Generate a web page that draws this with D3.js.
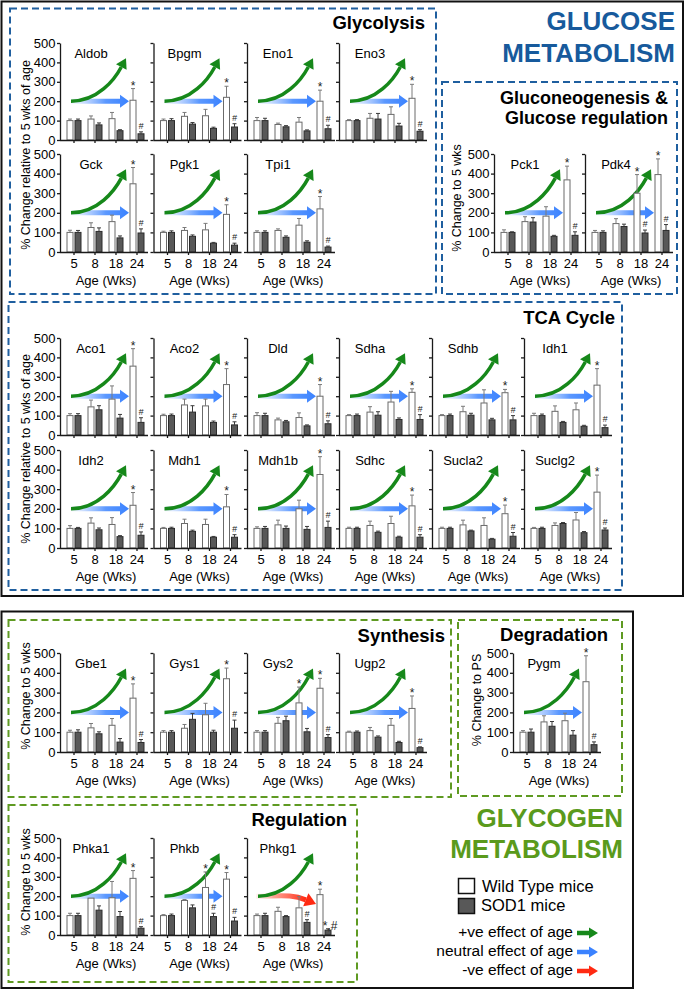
<!DOCTYPE html>
<html><head><meta charset="utf-8">
<script src="https://cdn.jsdelivr.net/npm/d3@7"></script>
<style>
body{margin:0;background:#fff}
svg{display:block}
text{font-family:"Liberation Sans",Arial,Helvetica,sans-serif}
</style>
</head><body>
<svg id="c" width="688" height="992"></svg>
<script>
// ---------------- DATA ----------------
const ages = ["5", "8", "18", "24"];
const yTicks = [0, 100, 200, 300, 400, 500];
const genes = ["Aldob","Bpgm","Eno1","Eno3","Gck","Pgk1","Tpi1","Pck1","Pdk4",
  "Aco1","Aco2","Dld","Sdha","Sdhb","Idh1","Idh2","Mdh1","Mdh1b","Sdhc","Sucla2","Suclg2",
  "Gbe1","Gys1","Gys2","Ugp2","Pygm","Phka1","Phkb","Phkg1"];
const wtMean = [
  [100,108,110,205],[100,122,125,220],[100,80,92,200],[100,112,132,215],
  [100,125,155,348],[100,110,113,192],[100,110,137,220],
  [100,155,183,368],[100,145,300,395],
  [100,145,185,355],[100,155,150,260],[100,78,90,200],[100,118,170,220],[100,120,165,218],[100,122,130,257],
  [100,127,120,218],[100,125,120,210],[100,118,200,375],[100,115,125,215],[100,118,115,175],[100,115,143,285],
  [100,122,135,272],[100,120,188,370],[100,145,248,322],[100,108,135,220],
  [100,152,158,355],
  [100,190,192,292],[100,178,245,288],[100,122,140,208]];
const wtErr = [
  [8,16,32,60],[8,20,33,57],[16,7,24,57],[5,25,39,72],
  [11,24,33,83],[6,15,33,49],[8,8,34,63],
  [13,25,48,70],[10,25,95,80],
  [10,35,68,90],[7,30,35,82],[15,9,24,60],[5,28,55,18],[5,28,68,17],[12,28,35,85],
  [14,27,35,65],[5,22,27,63],[8,24,44,91],[6,22,37,55],[6,24,39,44],[5,13,38,87],
  [10,22,34,72],[8,19,58,54],[8,30,80,50],[5,16,34,63],
  [8,31,38,131],
  [12,0,84,40],[5,5,80,34],[8,21,58,28]];
const sodMean = [
  [100,78,48,32],[100,82,60,67],[100,68,47,58],[100,108,72,45],
  [100,105,72,97],[100,80,45,35],[100,75,50,25],
  [100,153,80,85],[100,130,97,110],
  [100,130,87,65],[100,118,65,52],[100,68,47,58],[100,102,80,80],[100,102,78,78],[100,65,45,38],
  [100,93,58,65],[100,85,55,55],[100,100,95,105],[100,80,55,55],[100,87,45,60],[100,125,78,92],
  [100,92,50,48],[100,165,100,120],[100,158,102,73],[100,75,48,22],
  [100,130,85,37],
  [100,128,95,35],[100,140,95,72],[100,95,65,25]];
const sodErr = [
  [8,10,5,10],[10,8,6,17],[12,6,5,18],[5,29,14,8],
  [10,18,10,21],[8,7,4,10],[8,7,7,5],
  [3,22,5,18],[8,12,15,30],
  [10,21,19,24],[8,33,7,16],[12,7,5,15],[8,18,8,25],[8,10,8,22],[8,5,5,13],
  [5,9,5,17],[6,6,4,13],[10,12,15,32],[6,6,5,13],[6,4,4,19],[6,5,6,10],
  [12,10,18,15],[8,30,10,41],[8,23,17,15],[6,6,6,4],
  [16,24,23,14],
  [12,22,26,8],[8,15,17,19],[12,5,14,7]];
// significance marks (default: WT 24 "*", SOD1 24 "#")
const wtMarkExtra = {Pdk4:["","","*","*"], Gys2:["","","*","*"], Phkb:["","","*","*"]};
const sodMarkExtra = {Pdk4:["","","#","#"], Phkb:["","","#","#"], Phkg1:["","","#","*,#"]};
// second trend arrow per gene: "neutral" (blue) or "down" (red)
const negativeTrendGenes = ["Phkg1"];
const arrowStartVal = 200, arrowUpVal = 422, arrowDownVal = 160;

// ---------------- LAYOUT ----------------
const FONT = '"Liberation Sans",Arial,Helvetica,sans-serif';
const rows = [
  {names:["Aldob","Bpgm","Eno1","Eno3"], x:[60,153.5,247,339], top:43, bot:140, xl:false},
  {names:["Gck","Pgk1","Tpi1"], x:[60,153.5,247], top:154, bot:252, xl:true},
  {names:["Pck1","Pdk4"], x:[494,585], top:154, bot:252, xl:true},
  {names:["Aco1","Aco2","Dld","Sdha","Sdhb","Idh1"], x:[60,153.5,247,339,432,524], top:338, bot:435, xl:false},
  {names:["Idh2","Mdh1","Mdh1b","Sdhc","Sucla2","Suclg2"], x:[60,153.5,247,339,432,524], top:450, bot:548, xl:true},
  {names:["Gbe1","Gys1","Gys2","Ugp2"], x:[60,153.5,247,339], top:653, bot:752, xl:true},
  {names:["Pygm"], x:[513], top:653, bot:752, xl:true},
  {names:["Phka1","Phkb","Phkg1"], x:[60,153.5,247], top:838, bot:935, xl:true}
];
const PW = 88;

const svg = d3.select("#c");
const defs = svg.append("defs");
function grad(id, stops){
  const g = defs.append("linearGradient").attr("id", id)
    .attr("x1",0).attr("x2",1).attr("y1",0).attr("y2",0);
  stops.forEach(s => g.append("stop").attr("offset", s[0]).attr("stop-color", s[1]).attr("stop-opacity", s[2]));
}
grad("gBlue", [[0,"#cfe0ff",0.25],[0.3,"#9fc2ff",0.8],[0.6,"#5b98ff",1],[1,"#3a82ff",1]]);
grad("gRed", [[0,"#ffd6cf",0.3],[0.35,"#ff9a8a",0.9],[1,"#ff2a12",1]]);

const GREEN = "#16881a", BLUE = "#3a82ff", RED = "#ff2a12";

// ---------------- BOXES ----------------
function box(x1,y1,x2,y2,color,dash,w){
  svg.append("rect").attr("x",x1).attr("y",y1).attr("width",x2-x1).attr("height",y2-y1)
    .attr("fill","none").attr("stroke",color).attr("stroke-width",w)
    .attr("stroke-dasharray",dash||null);
}
box(1.5,1.5,683,596,"#111",null,2);
box(1.5,611.5,633,988,"#111",null,2);
const BLUEBOX = "#1f5f9f", GREENBOX = "#5f9a22";
box(10,8.5,436,294,BLUEBOX,"7,4",2);
box(442,82,677,294,BLUEBOX,"7,4",2);
box(8.5,302,622,590,BLUEBOX,"7,4",2);
box(8.5,620,451,797,GREENBOX,"7,4",2);
box(458,620,622,796,GREENBOX,"7,4",2);
box(8.5,805,357,982,GREENBOX,"7,4",2);

// ---------------- TITLES ----------------
function txt(t,x,y,size,opts={}){
  return svg.append("text").attr("x",x).attr("y",y).text(t)
    .attr("font-size",size).attr("font-weight",opts.bold?"bold":null)
    .attr("text-anchor",opts.anchor||"start").attr("fill",opts.fill||"#000")
    .attr("font-family",FONT);
}
txt("GLUCOSE",675,30,26,{bold:1,anchor:"end",fill:"#175a9c"});
txt("METABOLISM",675,62,26,{bold:1,anchor:"end",fill:"#175a9c"});
txt("Glycolysis",425,28.5,18.5,{bold:1,anchor:"end"});
txt("Gluconeogenesis &",668,104,18,{bold:1,anchor:"end"});
txt("Glucose regulation",668,124,18,{bold:1,anchor:"end"});
txt("TCA Cycle",615,324,18.5,{bold:1,anchor:"end"});
txt("Synthesis",445,641.5,18.5,{bold:1,anchor:"end"});
txt("Degradation",608,640.5,18.5,{bold:1,anchor:"end"});
txt("Regulation",347,826,18.5,{bold:1,anchor:"end"});
txt("GLYCOGEN",623,827,26,{bold:1,anchor:"end",fill:"#5a9a1c"});
txt("METABOLISM",623,858,26,{bold:1,anchor:"end",fill:"#5a9a1c"});

const yLabels = [
  {t:"% Change relative to 5 wks of age", x:30, y:155},
  {t:"% Change relative to 5 wks of age", x:30, y:449},
  {t:"% Change to 5 wks", x:461, y:198},
  {t:"% Change to 5 wks", x:30, y:696},
  {t:"% Change to PS", x:481, y:700},
  {t:"% Change to 5 wks", x:30, y:882}
];
yLabels.forEach(l => {
  svg.append("text").attr("transform",`translate(${l.x},${l.y}) rotate(-90)`)
    .attr("text-anchor","middle").attr("font-size",12.5).attr("font-family",FONT).text(l.t);
});

// ---------------- ARROWS ----------------
function head(T, d, len, half){
  const B = [T[0]-d[0]*len, T[1]-d[1]*len];
  const n = [-d[1], d[0]];
  return {B, pts:[T,[B[0]+n[0]*half,B[1]+n[1]*half],[B[0]-n[0]*half,B[1]-n[1]*half]]};
}
function greenArrow(g, x0, y){
  const S = [x0+11, y(arrowStartVal)], T = [x0+66, y(arrowUpVal)];
  const a = 62*Math.PI/180, d = [Math.cos(a), -Math.sin(a)];
  const h = head(T, d, 10, 6);
  const p = d3.path(); p.moveTo(S[0],S[1]);
  p.bezierCurveTo(S[0]+27,S[1], h.B[0]-d[0]*14,h.B[1]-d[1]*14, h.B[0],h.B[1]);
  g.append("path").attr("d",p.toString()).attr("fill","none").attr("stroke",GREEN).attr("stroke-width",3.5);
  g.append("polygon").attr("points",h.pts.map(q=>q.join(",")).join(" ")).attr("fill",GREEN);
}
function blueArrow(g, x0, y){
  const sx = x0+11, tx = x0+69, yy = y(arrowStartVal);
  const pts = [[sx,yy-2.5],[tx-9,yy-2.5],[tx-9,yy-6.5],[tx,yy],[tx-9,yy+6.5],[tx-9,yy+2.5],[sx,yy+2.5]];
  g.append("polygon").attr("points",pts.map(q=>q.join(",")).join(" ")).attr("fill","url(#gBlue)");
}
function redArrow(g, x0, y){
  const S = [x0+9, y(arrowStartVal)], T = [x0+69, y(arrowDownVal)];
  const a = 22*Math.PI/180, d = [Math.cos(a), Math.sin(a)];
  const h = head(T, d, 11, 7);
  const p = d3.path(); p.moveTo(S[0],S[1]);
  p.bezierCurveTo(S[0]+24,S[1], h.B[0]-d[0]*16,h.B[1]-d[1]*16, h.B[0],h.B[1]);
  g.append("path").attr("d",p.toString()).attr("fill","none").attr("stroke","url(#gRed)").attr("stroke-width",5);
  g.append("polygon").attr("points",h.pts.map(q=>q.join(",")).join(" ")).attr("fill",RED);
}

// ---------------- PANELS ----------------
function panel(name, x0, top, bot, showY, showX){
  const gi = genes.indexOf(name);
  const g = svg.append("g");
  const y = d3.scaleLinear().domain([0,500]).range([bot, top]);
  const x = d3.scaleBand().domain(ages).range([x0+3.5, x0+87.5]).padding(0);
  const xs = d3.scaleBand().domain(["wt","sod"]).range([-7,7]).paddingInner(0.25);
  const xc = a => x(a) + x.bandwidth()/2;

  // arrows behind bars
  if (negativeTrendGenes.includes(name)) redArrow(g, x0, y); else blueArrow(g, x0, y);
  greenArrow(g, x0, y);

  const series = [
    {k:"wt", m:wtMean[gi], e:wtErr[gi], fill:"#ffffff", stroke:"#6a6a6a", ec:"#7a7a7a",
     marks: wtMarkExtra[name] || ["","","","*"]},
    {k:"sod", m:sodMean[gi], e:sodErr[gi], fill:"#585858", stroke:"#2c2c2c", ec:"#3a3a3a",
     marks: sodMarkExtra[name] || ["","","","#"]}
  ];
  series.forEach(s => {
    const data = ages.map((a,i) => ({a, m:s.m[i], e:s.e[i], mk:s.marks[i]}));
    const bw = xs.bandwidth();
    g.selectAll(null).data(data).enter().append("rect")
      .attr("x", d => xc(d.a) + xs(s.k)).attr("y", d => y(d.m))
      .attr("width", bw).attr("height", d => y(0) - y(d.m))
      .attr("fill", s.fill).attr("stroke", s.stroke).attr("stroke-width", 1);
    const eg = g.selectAll(null).data(data.filter(d => d.e > 0)).enter();
    eg.append("line").attr("x1", d => xc(d.a)+xs(s.k)+bw/2).attr("x2", d => xc(d.a)+xs(s.k)+bw/2)
      .attr("y1", d => y(d.m)).attr("y2", d => y(d.m+d.e)).attr("stroke", s.ec).attr("stroke-width",1);
    eg.append("line").attr("x1", d => xc(d.a)+xs(s.k)+bw/2-2).attr("x2", d => xc(d.a)+xs(s.k)+bw/2+2)
      .attr("y1", d => y(d.m+d.e)).attr("y2", d => y(d.m+d.e)).attr("stroke", s.ec).attr("stroke-width",1);
    g.selectAll(null).data(data.filter(d => d.mk)).enter().append("text")
      .attr("x", d => xc(d.a)+xs(s.k)+bw/2 + (d.mk==="*,#"?2:0))
      .attr("y", d => d.mk.includes("*") ? y(d.m+d.e) + 1 : y(d.m+d.e) - 3)
      .attr("text-anchor","middle").attr("font-family",FONT)
      .attr("font-size", d => d.mk === "#" ? 9 : 12)
      .attr("font-style", d => d.mk === "#" ? "italic" : null)
      .attr("fill","#222").text(d => d.mk);
  });

  // y axis
  const ya = d3.axisLeft(y).tickValues(yTicks).tickSize(3).tickSizeOuter(0).tickPadding(1.5);
  if (!showY) ya.tickFormat("");
  const yg = g.append("g").attr("transform",`translate(${x0},0)`).call(ya);
  yg.attr("font-size",13).attr("font-family",FONT);
  yg.selectAll("path,line").attr("stroke","#1a1a1a").attr("stroke-width",1.3);
  yg.selectAll("text").attr("fill","#000");

  // x axis
  const xa = d3.axisBottom(x).tickSize(3).tickSizeOuter(0).tickPadding(4);
  if (!showX) xa.tickFormat("");
  const xg = g.append("g").attr("transform",`translate(0,${bot})`).call(xa);
  xg.select(".domain").remove();
  xg.attr("font-size",13).attr("font-family",FONT);
  xg.selectAll("line").attr("stroke","#1a1a1a").attr("stroke-width",1.3);
  xg.selectAll("text").attr("fill","#000");
  g.append("line").attr("x1",x0).attr("x2",x0+PW).attr("y1",bot+0.5).attr("y2",bot+0.5)
    .attr("stroke","#1a1a1a").attr("stroke-width",1.3);
  if (showX) {
    g.append("text").attr("x",x0+46).attr("y",bot+33).attr("text-anchor","middle")
      .attr("font-size",13).attr("font-family",FONT).text("Age (Wks)");
  }
  // gene name
  g.append("text").attr("x",x0+31).attr("y",top+15).attr("text-anchor","middle")
    .attr("font-size",13).attr("font-family",FONT).text(name);
}

rows.forEach(r => r.names.forEach((n,i) => panel(n, r.x[i], r.top, r.bot, i===0, r.xl)));

// ---------------- LEGEND ----------------
svg.append("rect").attr("x",458.5).attr("y",878.5).attr("width",16).attr("height",15)
  .attr("fill","#fff").attr("stroke","#111").attr("stroke-width",1.5);
svg.append("rect").attr("x",458.5).attr("y",898.5).attr("width",16).attr("height",15)
  .attr("fill","#585858").attr("stroke","#111").attr("stroke-width",1.5);
txt("Wild Type mice",482,892,16.5);
txt("SOD1 mice",481,911,16.5);
const legendArrows = [
  {t:"+ve effect of age", c:GREEN, y:933},
  {t:"neutral effect of age", c:BLUE, y:952},
  {t:"-ve effect of age", c:RED, y:971}
];
legendArrows.forEach(l => {
  txt(l.t,573,l.y+4,15.5,{anchor:"end"});
  const sx=577, tx=598, yy=l.y;
  const pts=[[sx,yy-2.2],[tx-9,yy-2.2],[tx-9,yy-5.5],[tx,yy],[tx-9,yy+5.5],[tx-9,yy+2.2],[sx,yy+2.2]];
  svg.append("polygon").attr("points",pts.map(q=>q.join(",")).join(" ")).attr("fill",l.c);
});
</script>
</body></html>
